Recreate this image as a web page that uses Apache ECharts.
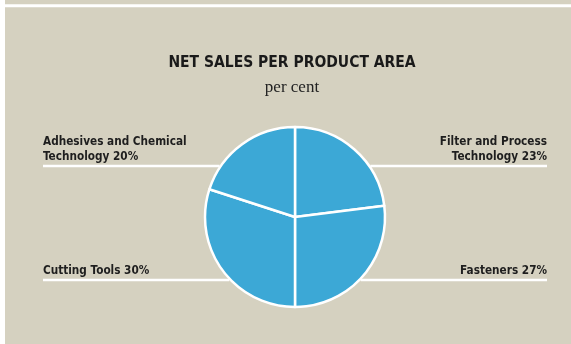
<!DOCTYPE html>
<html>
<head>
<meta charset="utf-8">
<script src="https://cdn.jsdelivr.net/npm/echarts@6/dist/echarts.min.js"></script>
<style>
  html, body { margin: 0; padding: 0; background: #ffffff; }
  #chart { width: 571px; height: 344px; }
</style>
</head>
<body>
<div id="chart"></div>
<script>
// Product areas, clockwise from 12 o'clock
const categories = ['Filter and Process\nTechnology', 'Fasteners', 'Cutting Tools', 'Adhesives and Chemical\nTechnology'];
const shares = [23, 27, 30, 20];

const titleText = 'NET SALES PER PRODUCT AREA';
const subtitleText = 'per cent';

const BEIGE = '#d5d1c0';
const BLUE = '#3ca8d6';
const CENTER = [295, 217];
const RADIUS = 90;
const LEFT_X = 43, RIGHT_X = 547;
const UPPER_Y = 166, LOWER_Y = 280;
const TITLE_X = 292;

const total = shares.reduce((a, b) => a + b, 0);
const midFractions = [];
let acc = 0;
shares.forEach(v => { midFractions.push((acc + v / 2) / total); acc += v; });

const chart = echarts.init(document.getElementById('chart'), null, { renderer: 'canvas' });

chart.setOption({
  animation: false,
  backgroundColor: '#ffffff',
  graphic: [
    { type: 'rect', z: -10, shape: { x: 5, y: 0, width: 566, height: 4.3 }, style: { fill: BEIGE } },
    { type: 'rect', z: -10, shape: { x: 5, y: 7.3, width: 566, height: 337 }, style: { fill: BEIGE } },
    {
      type: 'text', x: TITLE_X, y: 63,
      style: {
        text: titleText, align: 'center', verticalAlign: 'middle',
        font: 'bold 15.5px "DejaVu Sans Condensed"', fill: '#1a1a1a'
      }
    },
    {
      type: 'text', x: TITLE_X, y: 88,
      style: {
        text: subtitleText, align: 'center', verticalAlign: 'middle',
        font: '17px "Liberation Serif"', fill: '#222222'
      }
    }
  ],
  series: [{
    type: 'pie',
    center: CENTER,
    radius: RADIUS,
    startAngle: 90,
    clockwise: true,
    silent: true,
    emphasis: { disabled: true },
    itemStyle: { color: BLUE, borderColor: '#ffffff', borderWidth: 2.5 },
    label: {
      show: true,
      formatter: '{b} {c}%',
      fontFamily: 'DejaVu Sans Condensed',
      fontWeight: 'bold',
      fontSize: 11.7,
      lineHeight: 15,
      color: '#1e1e1e'
    },
    labelLine: { show: true, smooth: false, lineStyle: { color: '#ffffff', width: 2.5 } },
    labelLayout: function (p) {
      const m = midFractions[p.dataIndex];
      const right = m < 0.5;
      const upper = m < 0.25 || m > 0.75;
      const y = upper ? UPPER_Y : LOWER_Y;
      const dy = y - CENTER[1];
      const dx = Math.sqrt(Math.max(0, (RADIUS + 1) * (RADIUS + 1) - dy * dy));
      const edgeX = right ? CENTER[0] + dx : CENTER[0] - dx;
      const endX = right ? RIGHT_X : LEFT_X;
      return {
        x: endX,
        y: y - 1.5,
        align: right ? 'right' : 'left',
        verticalAlign: 'bottom',
        labelLinePoints: [[edgeX, y], [edgeX, y], [endX, y]]
      };
    },
    data: categories.map((name, i) => ({ name: name, value: shares[i] }))
  }]
});
</script>
</body>
</html>
